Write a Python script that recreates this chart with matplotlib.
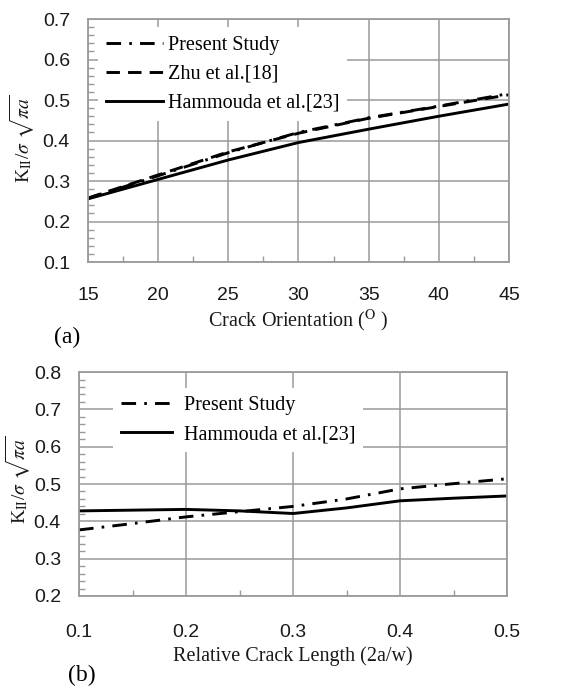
import matplotlib
matplotlib.use("Agg")
import matplotlib.pyplot as plt
from matplotlib.ticker import MultipleLocator

# (a) crack orientation
angle = [15, 20, 25, 30, 35, 40, 45]
present_a = [0.257, 0.313, 0.370, 0.420, 0.456, 0.485, 0.516]
zhu_a = [0.258, 0.315, 0.372, 0.418, 0.455, 0.484, 0.513]
hammouda_a = [0.256, 0.304, 0.352, 0.395, 0.428, 0.460, 0.490]

# (b) relative crack length
crack_len = [0.1, 0.15, 0.2, 0.25, 0.3, 0.35, 0.4, 0.45, 0.5]
present_b = [0.377, 0.394, 0.412, 0.426, 0.440, 0.460, 0.487, 0.501, 0.514]
hammouda_b = [0.428, 0.430, 0.432, 0.428, 0.421, 0.436, 0.455, 0.462, 0.468]

plt.rcParams['font.family'] = ['Liberation Serif', 'DejaVu Serif']
plt.rcParams['mathtext.fontset'] = 'stix'

GRID = '#9a9a9a'
TXT = '#1a1a1a'
LW = 2.1
DASHDOT = (0, (5.0, 2.8, 0.9, 2.8))
DASHED = (0, (4.6, 2.8))
YLABEL = r'K$_{\rm II}$/$\sigma$ $\sqrt{\pi a}$'

fig = plt.figure(figsize=(5.77, 6.89), dpi=100)
ax1 = fig.add_axes([0.1525, 0.6197, 0.7296, 0.3527])
ax2 = fig.add_axes([0.137, 0.135, 0.7418, 0.325])


def style_axes(ax, xpad, ypad):
    ax.grid(True, which='major', color=GRID, linewidth=1.1)
    ax.set_axisbelow(True)
    for s in ax.spines.values():
        s.set_color(GRID)
        s.set_linewidth(1.3)
    ax.tick_params(which='major', length=0, pad=xpad, labelsize=14,
                   labelcolor=TXT, axis='x')
    ax.tick_params(which='major', length=0, pad=ypad, labelsize=14,
                   labelcolor=TXT, axis='y')
    ax.tick_params(which='minor', direction='in', length=4, width=1,
                   color=GRID, top=False, right=False)
    for lab in ax.get_xticklabels() + ax.get_yticklabels():
        lab.set_fontfamily('Liberation Sans')


# panel (a)
ax1.plot(angle, hammouda_a, color='black', lw=LW, label='Hammouda et al.[23]')
ax1.plot(angle, zhu_a, color='black', lw=LW, ls=DASHED, label='Zhu et al.[18]')
ax1.plot(angle, present_a, color='black', lw=LW, ls=DASHDOT, label='Present Study')
ax1.set_xlim(15, 45)
ax1.set_ylim(0.1, 0.7)
ax1.xaxis.set_major_locator(MultipleLocator(5))
ax1.xaxis.set_minor_locator(MultipleLocator(2.5))
ax1.yaxis.set_major_locator(MultipleLocator(0.1))
ax1.yaxis.set_minor_locator(MultipleLocator(0.02))
style_axes(ax1, 18, 13)
ax1.set_xlabel(r'Crack Orientation ($^{\rm O}$ )', fontsize=14.5, color=TXT, labelpad=3)
ax1.set_ylabel(YLABEL, fontsize=14, color=TXT)
ax1.yaxis.set_label_coords(-0.12, 0.51)
h, l = ax1.get_legend_handles_labels()
ax1.legend(h[::-1], l[::-1], loc='upper left', bbox_to_anchor=(0.01, 0.99),
           fontsize=14.5, frameon=True, fancybox=False, framealpha=1,
           edgecolor='none', handlelength=2.8, labelspacing=0.5,
           handletextpad=0.25, borderaxespad=0.3, borderpad=0.4)
fig.text(67 / 577, 1 - 337 / 689, '(a)', fontsize=17, ha='center', va='center')

# panel (b)
ax2.plot(crack_len, hammouda_b, color='black', lw=LW, label='Hammouda et al.[23]')
ax2.plot(crack_len, present_b, color='black', lw=LW, ls=DASHDOT, label='Present Study')
ax2.set_xlim(0.1, 0.5)
ax2.set_ylim(0.2, 0.8)
ax2.xaxis.set_major_locator(MultipleLocator(0.1))
ax2.xaxis.set_minor_locator(MultipleLocator(0.05))
ax2.yaxis.set_major_locator(MultipleLocator(0.1))
ax2.yaxis.set_minor_locator(MultipleLocator(0.02))
style_axes(ax2, 20, 13)
ax2.set_xlabel('Relative Crack Length (2a/w)', fontsize=14.5, color=TXT, labelpad=4)
ax2.set_ylabel(YLABEL, fontsize=14, color=TXT)
ax2.yaxis.set_label_coords(-0.107, 0.52)
h, l = ax2.get_legend_handles_labels()
ax2.legend(h[::-1], l[::-1], loc='upper left', bbox_to_anchor=(0.08, 0.93),
           fontsize=14.5, frameon=True, fancybox=False, framealpha=1,
           edgecolor='none', handlelength=2.5, labelspacing=0.5,
           handletextpad=0.6, borderaxespad=0.0, borderpad=0.4)
fig.text(82 / 577, 1 - 675 / 689, '(b)', fontsize=17, ha='center', va='center')

fig.savefig('out.png', dpi=100)
